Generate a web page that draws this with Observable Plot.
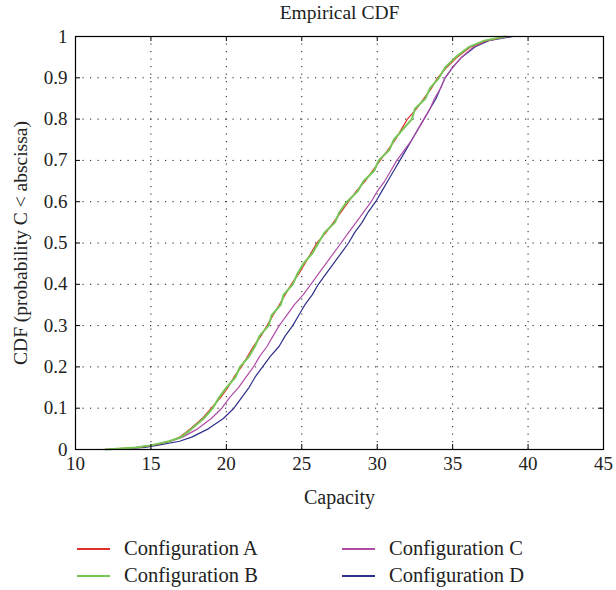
<!DOCTYPE html>
<html><head><meta charset="utf-8">
<script src="https://cdn.jsdelivr.net/npm/d3@7"></script>
<script src="https://cdn.jsdelivr.net/npm/@observablehq/plot@0.6"></script>
<style>
body{margin:0;background:#fff;font-family:"Liberation Serif",serif;color:#222;}
#chart svg{display:block;}
#legend{margin-top:15px;display:grid;grid-template-columns:265px 265px;padding-left:77px;font-size:20.5px;}
#legend .item{height:27px;line-height:27px;display:flex;align-items:center;}
#legend .sw{width:33px;height:0;border-top:2px solid;margin-right:14px;}
</style></head><body><div id="chart"></div><div id="legend"></div>
<script>
const title = "Empirical CDF";
const xLabel = "Capacity";
const yLabel = "CDF (probability C < abscissa)";
const xTicks = [10, 15, 20, 25, 30, 35, 40, 45];
const yTicks = [0, 0.1, 0.2, 0.3, 0.4, 0.5, 0.6, 0.7, 0.8, 0.9, 1];
const yTickLabels = ["0", "0.1", "0.2", "0.3", "0.4", "0.5", "0.6", "0.7", "0.8", "0.9", "1"];
const seriesNames = ["Configuration A", "Configuration B", "Configuration C", "Configuration D"];

const cdfLevels = [0, 0.005, 0.01, 0.02, 0.03, 0.05, 0.075, 0.1, 0.125, 0.15, 0.175, 0.2, 0.225, 0.25, 0.275, 0.3, 0.325, 0.35, 0.375, 0.4, 0.425, 0.45, 0.475, 0.5, 0.525, 0.55, 0.575, 0.6, 0.625, 0.65, 0.675, 0.7, 0.725, 0.75, 0.775, 0.8, 0.825, 0.85, 0.875, 0.9, 0.925, 0.95, 0.975, 0.99, 1];
const capA = [11.8, 14.2, 15.1, 16.3, 16.9, 17.6, 18.4, 19.0, 19.6, 20.1, 20.5, 21.0, 21.4, 21.8, 22.3, 22.7, 23.1, 23.5, 23.9, 24.3, 24.8, 25.2, 25.6, 26.0, 26.6, 27.1, 27.6, 28.1, 28.6, 29.2, 29.7, 30.2, 30.7, 31.2, 31.6, 32.0, 32.6, 33.1, 33.6, 34.0, 34.6, 35.3, 36.2, 37.2, 38.6];
const capB = [12.0, 14.0, 15.0, 16.2, 17.0, 17.7, 18.5, 19.1, 19.5, 20.0, 20.6, 20.9, 21.5, 21.9, 22.2, 22.8, 23.0, 23.6, 23.8, 24.4, 24.7, 25.1, 25.7, 26.1, 26.5, 27.2, 27.5, 28.0, 28.7, 29.1, 29.8, 30.1, 30.8, 31.1, 31.7, 32.3, 32.5, 33.2, 33.5, 34.1, 34.5, 35.2, 36.1, 37.1, 38.5];
const capC = [12.5, 14.0, 15.0, 16.3, 17.1, 18.1, 19.0, 19.7, 20.2, 20.8, 21.3, 21.8, 22.2, 22.7, 23.1, 23.5, 24.0, 24.5, 25.1, 25.6, 26.1, 26.6, 27.1, 27.6, 28.1, 28.6, 29.1, 29.6, 30.0, 30.5, 30.9, 31.3, 31.8, 32.3, 32.7, 33.1, 33.5, 33.8, 34.2, 34.5, 35.0, 35.6, 36.4, 37.3, 38.8];
const capD = [12.8, 14.6, 15.4, 16.9, 17.7, 18.8, 19.8, 20.5, 21.0, 21.5, 21.9, 22.4, 22.9, 23.5, 23.9, 24.4, 24.8, 25.2, 25.7, 26.1, 26.6, 27.1, 27.6, 28.1, 28.5, 29.0, 29.4, 29.9, 30.3, 30.7, 31.1, 31.5, 31.9, 32.3, 32.7, 33.1, 33.5, 33.9, 34.2, 34.5, 35.0, 35.6, 36.5, 37.4, 39.0];

const seriesValues = [capA, capB, capC, capD];
const colors = ["#e0302c", "#76c655", "#b04ca6", "#2e2f8a"];
const widths = [1.2, 2, 1.2, 1.2];

const rows = [];
seriesNames.forEach((name, i) => {
  seriesValues[i].forEach((c, j) => rows.push({series: name, capacity: c, cdf: cdfLevels[j]}));
});
const drawOrder = [3, 2, 0, 1];

const W = 616, H = 520;
const mL = 75, mR = 13, mT = 36, mB = 71;
const innerW = W - mL - mR, innerH = H - mT - mB;
const tick = 5;

const marks = [
  Plot.gridX(xTicks, {stroke: "#000", strokeOpacity: 0.9, strokeWidth: 1, strokeDasharray: "1.2,6.3"}),
  Plot.gridY(yTicks, {stroke: "#000", strokeOpacity: 0.9, strokeWidth: 1, strokeDasharray: "1.2,6.3"}),
  ...drawOrder.map(i => Plot.line(rows.filter(d => d.series === seriesNames[i]), {
    x: "capacity", y: "cdf", stroke: colors[i], strokeWidth: widths[i]
  })),
  Plot.tickX(xTicks, {x: d => d, stroke: "#000", insetTop: innerH - tick}),
  Plot.tickX(xTicks, {x: d => d, stroke: "#000", insetBottom: innerH - tick}),
  Plot.tickY(yTicks, {y: d => d, stroke: "#000", insetRight: innerW - tick}),
  Plot.tickY(yTicks, {y: d => d, stroke: "#000", insetLeft: innerW - tick}),
  Plot.frame({stroke: "#000", strokeWidth: 1.2}),
  Plot.axisX(xTicks, {tickSize: 0, tickPadding: 7, label: null, fontSize: 19, fill: "#222"}),
  Plot.axisY(yTicks, {tickSize: 0, tickPadding: 8, label: null, fontSize: 19, fill: "#222", tickFormat: d => yTickLabels[yTicks.indexOf(d)]}),
  Plot.text([title], {text: d => d, frameAnchor: "top", lineAnchor: "middle", dy: -24, fontSize: 19.5, fill: "#222"}),
  Plot.text([xLabel], {text: d => d, frameAnchor: "bottom", lineAnchor: "middle", dy: 48, fontSize: 20, fill: "#222"}),
  Plot.text([yLabel], {text: d => d, frameAnchor: "left", textAnchor: "middle", lineAnchor: "middle", dx: -55, rotate: -90, fontSize: 19.5, fill: "#222"})
];

const chart = Plot.plot({
  width: W, height: H,
  marginLeft: mL, marginRight: mR, marginTop: mT, marginBottom: mB,
  style: {fontFamily: "'Liberation Serif', serif", background: "#fff", overflow: "visible"},
  x: {domain: [10, 45]},
  y: {domain: [0, 1]},
  marks
});
document.getElementById("chart").appendChild(chart);

const legend = document.getElementById("legend");
[0, 2, 1, 3].forEach(i => {
  const item = document.createElement("div");
  item.className = "item";
  const sw = document.createElement("span");
  sw.className = "sw";
  sw.style.borderTopColor = colors[i];
  const label = document.createElement("span");
  label.textContent = seriesNames[i];
  item.appendChild(sw); item.appendChild(label);
  legend.appendChild(item);
});
</script></body></html>
